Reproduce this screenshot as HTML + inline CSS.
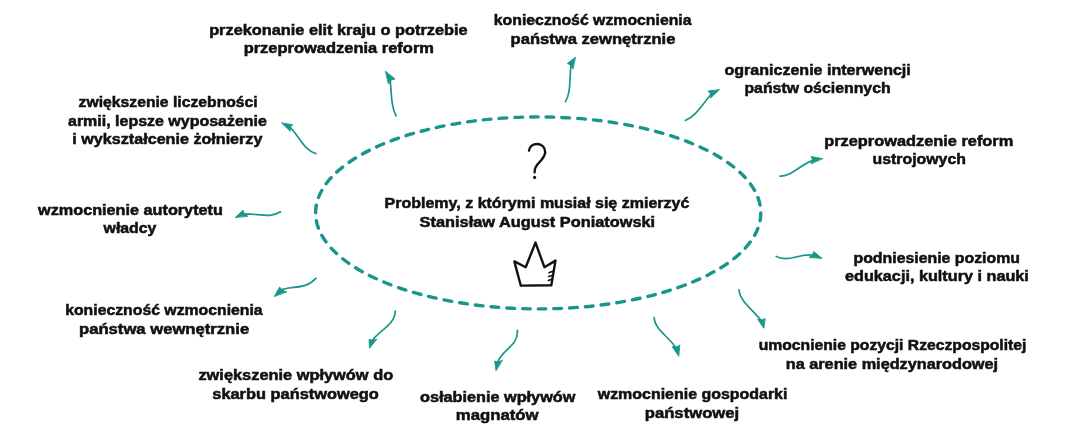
<!DOCTYPE html>
<html><head><meta charset="utf-8">
<style>
html,body{margin:0;padding:0;background:#fff;}
body{width:1080px;height:448px;overflow:hidden;position:relative;}
svg{position:absolute;left:0;top:0;will-change:transform;}
text{font-family:"Liberation Sans",sans-serif;font-weight:bold;font-size:15.5px;fill:#111;stroke:#111;stroke-width:0.55px;}
</style></head><body>
<svg width="1080" height="448" viewBox="0 0 1080 448">
<ellipse cx="538.2" cy="212.9" rx="222.6" ry="96" fill="none" stroke="#17968a" stroke-width="3.4" stroke-dasharray="7.7 8.062" stroke-dashoffset="-0.15" stroke-linecap="round"/>
<g fill="none" stroke="#17968a" stroke-width="1.7" stroke-linecap="round" stroke-linejoin="round">
<path d="M396 115.8 C391.5 107 391.5 97 390.08 77.42"/>
<polygon points="385.60,71.40 395.00,78.90 391.06,80.11 388.60,83.70" fill="#17968a" stroke-width="0.9"/>
<path d="M565.4 101.6 C571 93 569.3 80 571.14 62.72"/>
<polygon points="575.20,57.40 567.40,63.40 570.71,65.06 572.80,68.80" fill="#17968a" stroke-width="0.9"/>
<path d="M685.4 120.4 C696 116 701 106 712.34 92.71"/>
<polygon points="719.20,89.70 708.00,91.00 710.49,93.79 710.60,97.70" fill="#17968a" stroke-width="0.9"/>
<path d="M780 176.2 C792 176.5 800 164 815.23 159.58"/>
<polygon points="822.30,158.60 811.20,156.60 812.53,159.92 811.20,163.60" fill="#17968a" stroke-width="0.9"/>
<path d="M776.25 256.4 C781 259.5 787 259.5 796 257 C803 255 808 254 815.29 255.26"/>
<polygon points="821.80,258.20 813.75,251.50 812.76,254.86 809.30,257.30" fill="#17968a" stroke-width="0.9"/>
<path d="M739.1 289.8 C739.5 301 752 309 762.16 321.67"/>
<polygon points="763.70,327.90 757.60,319.30 761.54,320.07 764.90,318.70" fill="#17968a" stroke-width="0.9"/>
<path d="M654.1 317.7 C654.5 329 668 336 676.64 348.62"/>
<polygon points="678.60,355.90 672.10,346.50 676.14,347.06 679.50,345.20" fill="#17968a" stroke-width="0.9"/>
<path d="M517.4 330.4 C518.5 347 500 350 497.40 363.79"/>
<polygon points="496.00,370.30 494.70,361.10 498.11,361.94 502.10,360.50" fill="#17968a" stroke-width="0.9"/>
<path d="M395.3 311.1 C395 326 377 331 371.60 341.88"/>
<polygon points="369.50,347.90 369.10,339.30 372.40,340.33 376.50,339.30" fill="#17968a" stroke-width="0.9"/>
<path d="M315.9 278.4 C305 290.5 290 285 279.37 290.82"/>
<polygon points="274.40,296.25 279.70,286.90 282.01,290.18 286.40,291.80" fill="#17968a" stroke-width="0.9"/>
<path d="M280.5 211.8 C270 219 258 213 242.15 213.94"/>
<polygon points="235.50,217.30 243.00,210.20 244.17,213.65 247.70,216.10" fill="#17968a" stroke-width="0.9"/>
<path d="M316 153.6 C304 150.5 300 137 289.26 126.47"/>
<polygon points="281.70,122.90 292.70,124.70 290.28,127.21 290.20,130.90" fill="#17968a" stroke-width="0.9"/>
</g>
<g fill="none" stroke="#111" stroke-width="2.4" stroke-linecap="round" stroke-linejoin="round">
<path d="M529 150.6 C529.5 146.5 533 144 537.3 144 C541.8 144 545.2 147.3 545.2 152 C545.2 155 543.5 157.5 541 160.5 L537 165 C535.3 167 534.6 169 534.6 172.2"/>
<circle cx="534.6" cy="177.4" r="1.6" fill="#111" stroke="none"/>
<path d="M520.8 285.6 C518.8 278 516 268 514.4 261.4 L525.7 267.2 L535.5 242.6 L544.4 267.2 L555.5 260.6 L551.3 285.2 Z"/>
<path d="M549 272.7 L553.4 271 M548.7 276.5 L552.9 275.3 M548.4 280.5 L552.4 279.1" stroke-width="1.6"/>
</g>
<text transform="translate(209.15 34.50) scale(1.0545 1)">przekonanie elit kraju o potrzebie</text>
<text transform="translate(243.64 53.40) scale(1.0628 1)">przeprowadzenia reform</text>
<text transform="translate(493.78 25.30) scale(1.0208 1)">konieczność wzmocnienia</text>
<text transform="translate(510.53 43.50) scale(1.0700 1)">państwa zewnętrznie</text>
<text transform="translate(724.50 74.70) scale(1.0355 1)">ograniczenie interwencji</text>
<text transform="translate(744.38 93.40) scale(1.0239 1)">państw ościennych</text>
<text transform="translate(824.24 145.60) scale(1.0560 1)">przeprowadzenie reform</text>
<text transform="translate(872.50 164.00) scale(1.0240 1)">ustrojowych</text>
<text transform="translate(853.48 262.80) scale(1.0242 1)">podniesienie poziomu</text>
<text transform="translate(845.00 281.20) scale(1.0467 1)">edukacji, kultury i nauki</text>
<text transform="translate(758.70 349.80) scale(1.0129 1)">umocnienie pozycji Rzeczpospolitej</text>
<text transform="translate(785.75 368.50) scale(1.0501 1)">na arenie międzynarodowej</text>
<text transform="translate(597.73 399.20) scale(1.0302 1)">wzmocnienie gospodarki</text>
<text transform="translate(644.72 417.90) scale(1.0770 1)">państwowej</text>
<text transform="translate(420.00 401.70) scale(1.0497 1)">osłabienie wpływów</text>
<text transform="translate(455.82 420.10) scale(1.0798 1)">magnatów</text>
<text transform="translate(198.40 380.30) scale(1.0574 1)">zwiększenie wpływów do</text>
<text transform="translate(212.30 398.50) scale(1.0564 1)">skarbu państwowego</text>
<text transform="translate(65.18 315.10) scale(1.0198 1)">konieczność wzmocnienia</text>
<text transform="translate(79.03 333.50) scale(1.0737 1)">państwa wewnętrznie</text>
<text transform="translate(38.05 215.00) scale(1.0481 1)">wzmocnienie autorytetu</text>
<text transform="translate(103.62 232.90) scale(1.0213 1)">władcy</text>
<text transform="translate(78.60 107.30) scale(1.0142 1)">zwiększenie liczebności</text>
<text transform="translate(68.00 125.80) scale(1.0318 1)">armii, lepsze wyposażenie</text>
<text transform="translate(72.36 144.30) scale(1.0411 1)">i wykształcenie żołnierzy</text>
<text transform="translate(384.57 208.40) scale(1.0327 1)">Problemy, z którymi musiał się zmierzyć</text>
<text transform="translate(419.60 227.10) scale(1.0554 1)">Stanisław August Poniatowski</text>
</svg>
</body></html>
